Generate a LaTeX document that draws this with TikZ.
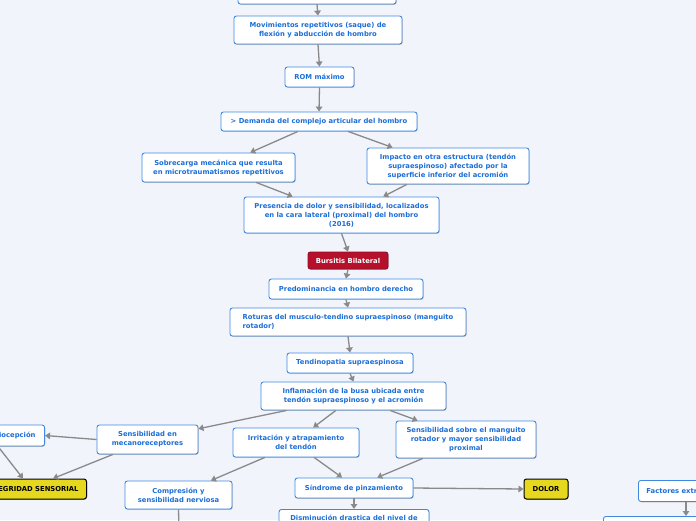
\documentclass[tikz,border=0pt]{standalone}
\usepackage{fontspec}
\setmainfont{DejaVu Sans}
\usetikzlibrary{shadows,arrows.meta,calc}
\definecolor{bgc}{HTML}{F2F4FC}
\definecolor{bordblue}{HTML}{3F8AE0}
\definecolor{txtblue}{HTML}{1C6ED8}
\definecolor{redfill}{HTML}{B5102C}
\definecolor{yelfill}{HTML}{E6D81E}
\definecolor{linegray}{HTML}{8A8A8A}
\tikzset{
  box/.style={draw=bordblue, fill=white, rounded corners=2.5pt, line width=0.9pt,
    font=\bfseries\fontsize{6.8}{9}\selectfont, text=txtblue, align=center,
    inner sep=0pt, drop shadow={shadow xshift=0.6pt, shadow yshift=-0.8pt, opacity=0.25, fill=black}},
  redbox/.style={box, draw=redfill!80!black, fill=redfill, text=white},
  yelbox/.style={box, draw=black, fill=yelfill, text=black, line width=1pt},
  conn/.style={draw=linegray, line width=1.3pt, -{Triangle[length=5pt,width=6.5pt]}},
  plain/.style={draw=linegray, line width=1.3pt}
}
\begin{document}
\begin{tikzpicture}[x=1pt,y=-1pt]
\useasboundingbox (0,0) rectangle (696,520);
\clip (0,0) rectangle (696,520);
\fill[bgc] (0,0) rectangle (696,520);

\node[box, minimum width=158pt, minimum height=24pt] (top) at (317,-8) {};
\node[box, minimum width=168pt, minimum height=28pt] (n2) at (318,30) {Movimientos repetitivos (saque) de\\flexión y abducción de hombro};
\node[box, minimum width=69pt, minimum height=20pt] (n3) at (319.5,77) {ROM máximo};
\node[box, minimum width=196pt, minimum height=19pt] (n4) at (319,121.5) {> Demanda del complejo articular del hombro};
\node[box, minimum width=153pt, minimum height=29pt] (n5) at (218.5,167.5) {Sobrecarga mecánica que resulta\\en microtraumatismos repetitivos};
\node[box, minimum width=162pt, minimum height=36pt] (n6) at (448,166) {Impacto en otra estructura (tendón\\supraespinoso) afectado por la\\superficie inferior del acromión};
\node[box, minimum width=195pt, minimum height=36pt] (n7) at (341.5,215) {Presencia de dolor y sensibilidad, localizados\\en la cara lateral (proximal) del hombro\\(2016)};
\node[redbox, minimum width=80pt, minimum height=17pt] (n8) at (348,260.5) {Bursitis Bilateral};
\node[box, minimum width=154pt, minimum height=20pt] (n9) at (346,289) {Predominancia en hombro derecho};
\node[box, minimum width=236pt, minimum height=28pt, align=left] (n10) at (348,322) {Roturas del musculo-tendino supraespinoso (manguito\\rotador)};
\node[box, minimum width=126pt, minimum height=20pt] (n11) at (350,363) {Tendinopatia supraespinosa};
\node[box, minimum width=185pt, minimum height=28pt] (n12) at (353.5,396) {Inflamación de la busa ubicada entre\\tendón supraespinoso y el acromión};
\node[box, minimum width=126pt, minimum height=29pt] (n13) at (296,442.5) {Irritación y atrapamiento\\del tendón};
\node[box, minimum width=140pt, minimum height=37pt] (n14) at (466,439.5) {Sensibilidad sobre el manguito\\rotador y mayor sensibilidad\\proximal};
\node[box, minimum width=118pt, minimum height=20pt] (n15) at (354,488) {Síndrome de pinzamiento};
\node[yelbox, minimum width=44pt, minimum height=20pt] (n16) at (546,489) {DOLOR};
\node[box, anchor=north, minimum width=150pt, inner ysep=6pt, text depth=24pt] (n17) at (354,509) {Disminución drastica del nivel de};
\node[box, minimum width=101pt, minimum height=29pt] (n18) at (147.5,439.5) {Sensibilidad en\\mecanoreceptores};
\node[box, anchor=east, minimum height=21pt, inner xsep=9pt] (n19) at (45,435.5) {Propiocepción};
\node[yelbox, anchor=east, minimum height=20pt, inner xsep=8pt] (n20) at (87,489) {INTEGRIDAD SENSORIAL};
\node[box, minimum width=107pt, minimum height=28pt] (n21) at (178.5,495) {Compresión y\\sensibilidad nerviosa};
\node[box, anchor=north west, minimum height=21pt, inner xsep=8pt] (n22) at (638,480) {Factores extrínsecos};
\node[box, anchor=north west, minimum width=160pt, minimum height=30pt] (n23) at (603,516) {};
\coordinate (n21end) at (179,530);

\draw[conn] (top.south) -- (n2.north);
\draw[conn] (n2.south) -- (n3.north);
\draw[conn] (n3.south) -- (n4.north);
\draw[conn] ($(n4.south west)!0.393!(n4.south east)$) -- ($(n5.north west)!0.706!(n5.north east)$);
\draw[conn] ($(n4.south west)!0.648!(n4.south east)$) -- ($(n6.north west)!0.16!(n6.north east)$);
\draw[conn] ($(n5.south west)!0.745!(n5.south east)$) -- ($(n7.north west)!0.251!(n7.north east)$);
\draw[conn] ($(n6.south west)!0.247!(n6.south east)$) -- ($(n7.north west)!0.713!(n7.north east)$);
\draw[conn] (n7.south) -- (n8.north);
\draw[conn] (n8.south) -- (n9.north);
\draw[conn] (n9.south) -- (n10.north);
\draw[conn] (n10.south) -- (n11.north);
\draw[conn] (n11.south) -- (n12.north);
\draw[conn] ($(n12.south west)!0.14!(n12.south east)$) -- ($(n18.north east)!0.14!(n18.south east)$);
\draw[conn] ($(n12.south west)!0.405!(n12.south east)$) -- ($(n13.north west)!0.635!(n13.north east)$);
\draw[conn] ($(n12.south west)!0.697!(n12.south east)$) -- ($(n14.north west)!0.157!(n14.north east)$);
\draw[conn] ($(n13.south west)!0.254!(n13.south east)$) -- ($(n21.north west)!0.80!(n21.north east)$);
\draw[conn] ($(n13.south west)!0.643!(n13.south east)$) -- ($(n15.north west)!0.40!(n15.north east)$);
\draw[conn] ($(n14.south west)!0.193!(n14.south east)$) -- ($(n15.north west)!0.695!(n15.north east)$);
\draw[conn] (n15.east) -- (n16.west);
\draw[conn] (n15.south) -- (n17.north);
\draw[conn] (n18.west) -- (n19.east);
\draw[conn] ($(n18.south west)!0.16!(n18.south east)$) -- ($(n20.north east)+(-34,0)$);
\draw[conn] ($(n19.south east)+(-47,0)$) -- ($(n20.north east)+(-64,0)$);
\draw[plain] (n21.south) -- (n21end);
\draw[conn] ($(n22.south west)+(48,0)$) -- ($(n23.north west)+(83,0)$);
\end{tikzpicture}
\end{document}
